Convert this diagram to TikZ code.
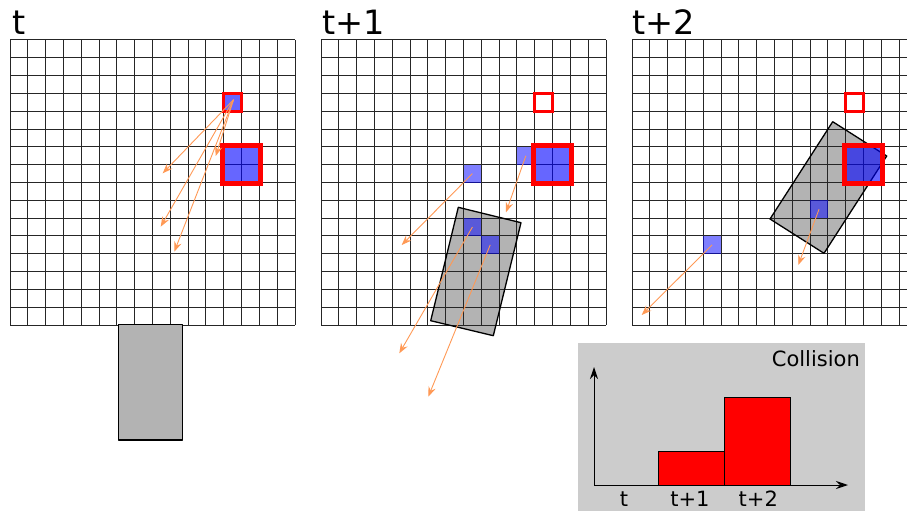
\documentclass[tikz,border=0pt]{standalone}
\usepackage{fontspec}
\setmainfont{DejaVu Sans}
\usetikzlibrary{arrows.meta}
\definecolor{cargray}{HTML}{B3B3B3}
\definecolor{panelgray}{HTML}{CCCCCC}
\definecolor{arrowor}{HTML}{FF9955}
\newcommand\gridlinesHere{%
  \foreach \k in {0,...,16}{%
    \draw[gridline] (\k,0) -- (\k,16);
    \draw[gridline] (0,\k) -- (16,\k);
  }}
\tikzset{
  gridline/.style={draw=black!85, line width=1pt},
  hitcell/.style={fill=blue, fill opacity=0.6},
  ghostcell/.style={fill=blue, fill opacity=0.5},
  redthin/.style={draw=red, line width=2.8pt},
  redthick/.style={draw=red, line width=5pt},
  carbox/.style={fill=cargray},
  caredge/.style={draw=black, line width=1.3pt, line join=round},
  motion/.style={draw=arrowor, line width=0.9pt, -{Stealth[length=10pt,width=7.5pt,inset=3.5pt]}},
  axisline/.style={draw=black, line width=1pt, -{Stealth[length=12pt,width=8pt,inset=4pt]}},
  bar/.style={fill=red, draw=black, line width=1pt},
  biglabel/.style={font=\fontsize{33.5}{38}\selectfont, inner sep=0pt, anchor=base west},
  smalllabel/.style={font=\fontsize{21}{24}\selectfont, inner sep=0pt},
  cellgrid/.style={x=17.8125pt, y=-17.8125pt}
}
\begin{document}
\begin{tikzpicture}[x=1pt,y=-1pt]
\useasboundingbox (0,0) rectangle (907,511);
\clip (0,0) rectangle (907,511);

% ---------------- panel t ----------------
\node[biglabel] (lt) at (12.5,35) {t};
\begin{scope}[shift={(10pt,-40pt)}, cellgrid]
  \fill[white] (0,0) rectangle (16,16);
  \gridlinesHere
  \fill[hitcell] (12,3) rectangle (13,4);
  \fill[hitcell] (12,6) rectangle (14,8);
  \draw[redthin] (12,3) rectangle (13,4);
  \draw[redthick] (11.94,5.94) rectangle (14.06,8.06);
  \coordinate (s1) at (12.55,3.35);
\end{scope}
\filldraw[carbox, caredge] (118.5,324.5) rectangle (182.5,440);
\coordinate (e1a) at (162.7,173.3);
\coordinate (e1b) at (160.7,226.7);
\coordinate (e1c) at (174.3,251.7);
\coordinate (e1d) at (215.7,156);
\draw[motion] (s1) -- (e1a);
\draw[motion] (s1) -- (e1b);
\draw[motion] (s1) -- (e1c);
\draw[motion] (s1) -- (e1d);

% ---------------- panel t+1 ----------------
\node[biglabel] (lt1) at (322.5,35) {t+1};
\fill[white] (321,40) rectangle (606,325);
\coordinate (c2a) at (458.3,207.3);
\coordinate (c2b) at (521,222.7);
\coordinate (c2c) at (493.3,335.7);
\coordinate (c2d) at (430.7,320.7);
\fill[carbox] (c2a) -- (c2b) -- (c2c) -- (c2d) -- cycle;
\begin{scope}[shift={(321pt,-40pt)}, cellgrid]
  \gridlinesHere
\end{scope}
\draw[caredge] (c2a) -- (c2b) -- (c2c) -- (c2d) -- cycle;
\begin{scope}[shift={(321pt,-40pt)}, cellgrid]
  \fill[ghostcell] (11,6) rectangle (12,7);
  \fill[ghostcell] (8,7) rectangle (9,8);
  \fill[ghostcell] (8,10) rectangle (9,11);
  \fill[ghostcell] (9,11) rectangle (10,12);
  \fill[hitcell] (12,6) rectangle (14,8);
  \draw[redthin] (12,3) rectangle (13,4);
  \draw[redthick] (11.94,5.94) rectangle (14.06,8.06);
  \coordinate (s2a) at (8.5,7.5);
  \coordinate (s2b) at (11.5,6.5);
  \coordinate (s2c) at (8.5,10.5);
  \coordinate (s2d) at (9.5,11.5);
\end{scope}
\coordinate (e2a) at (401.7,245);
\coordinate (e2b) at (506,212.3);
\coordinate (e2c) at (399.3,353.3);
\coordinate (e2d) at (428.3,396.7);
\draw[motion] (s2a) -- (e2a);
\draw[motion] (s2b) -- (e2b);
\draw[motion] (s2c) -- (e2c);
\draw[motion] (s2d) -- (e2d);

% ---------------- panel t+2 ----------------
\node[biglabel] (lt2) at (632.5,35) {t+2};
\fill[white] (632,40) rectangle (917,325);
\coordinate (c3a) at (832.7,121.7);
\coordinate (c3b) at (886.7,156);
\coordinate (c3c) at (824,253.3);
\coordinate (c3d) at (770,219);
\fill[carbox] (c3a) -- (c3b) -- (c3c) -- (c3d) -- cycle;
\begin{scope}[shift={(632pt,-40pt)}, cellgrid]
  \gridlinesHere
\end{scope}
\draw[caredge] (c3a) -- (c3b) -- (c3c) -- (c3d) -- cycle;
\begin{scope}[shift={(632pt,-40pt)}, cellgrid]
  \fill[ghostcell] (10,9) rectangle (11,10);
  \fill[ghostcell] (4,11) rectangle (5,12);
  \fill[hitcell] (12,6) rectangle (14,8);
  \draw[redthin] (12,3) rectangle (13,4);
  \draw[redthick] (11.94,5.94) rectangle (14.06,8.06);
  \coordinate (s3a) at (10.5,9.5);
  \coordinate (s3b) at (4.5,11.5);
\end{scope}
\coordinate (e3a) at (798.3,265);
\coordinate (e3b) at (641.7,315);
\draw[motion] (s3a) -- (e3a);
\draw[motion] (s3b) -- (e3b);

% ---------------- collision panel ----------------
\fill[panelgray] (578.3,343.3) rectangle (865,515);
\node[smalllabel, anchor=base east] (coll) at (860,366.7) {Collision};
\filldraw[bar] (658.3,451) rectangle (724.3,485);
\filldraw[bar] (724.3,397.3) rectangle (790,485);
\coordinate (org) at (594,485);
\coordinate (yend) at (594,367);
\coordinate (xend) at (848,485);
\draw[axisline] (org) -- (yend);
\draw[axisline] (org) -- (xend);
\node[smalllabel, anchor=base] (xt0) at (624,506.7) {t};
\node[smalllabel, anchor=base] (xt1) at (690,506.7) {t+1};
\node[smalllabel, anchor=base] (xt2) at (758.3,506.7) {t+2};
\end{tikzpicture}
\end{document}
